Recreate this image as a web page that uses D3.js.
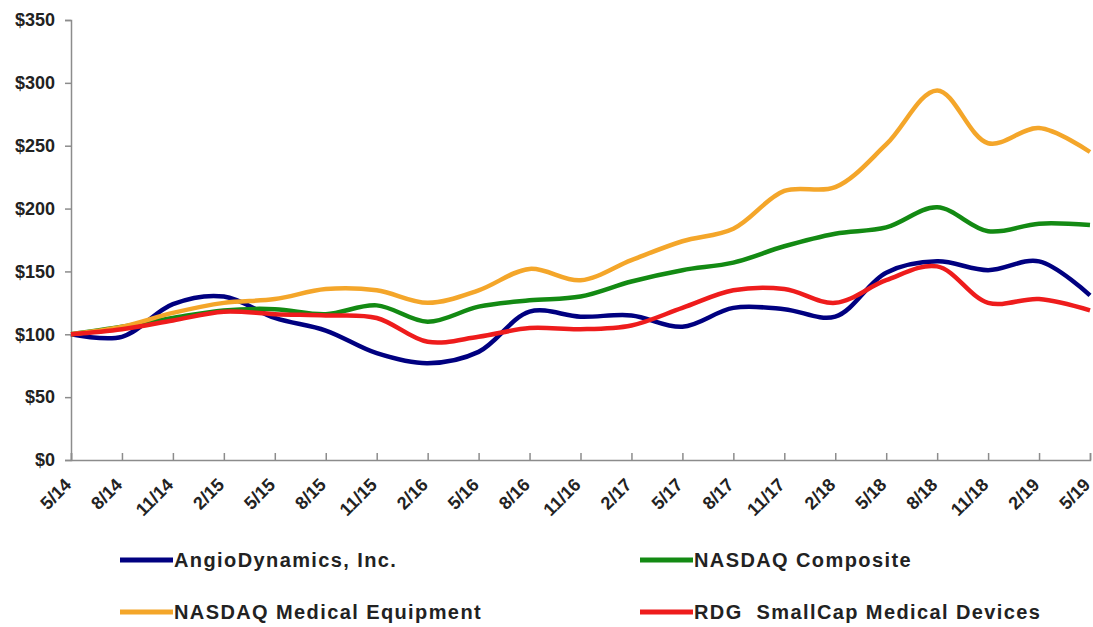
<!DOCTYPE html>
<html>
<head>
<meta charset="utf-8">
<script src="https://cdnjs.cloudflare.com/ajax/libs/d3/7.8.5/d3.min.js"></script>
<style>
body{margin:0;background:#fff;}
.tick text{font-family:"Liberation Sans",Arial,sans-serif;font-weight:bold;fill:#222;}
.legtext{font-family:"Liberation Sans",Arial,sans-serif;font-weight:bold;font-size:20px;letter-spacing:1.4px;fill:#222;}
</style>
</head>
<body>
<div id="chart"></div>
<script>
var w = 1093;
var h = 627;

var dates = ["5/14","8/14","11/14","2/15","5/15","8/15","11/15","2/16","5/16","8/16","11/16",
  "2/17","5/17","8/17","11/17","2/18","5/18","8/18","11/18","2/19","5/19"];
var yTicks = [0,50,100,150,200,250,300,350];

var angio =   [100,98,124,130,113,103,85,77,86,118,114,115,106,121,120,114,149,158,151,158,131];
var nasdaq =  [100,106,113,119,120,116,123,110,122,127,130,142,151,157,170,180,185,201,182,188,187];
var medEq =   [100,106,117,125,128,136,135,125,135,152,143,159,174,184,214,217,251,294,252,264,245];
var rdg =     [100,104,111,118,116,115,113,94,98,105,104,107,121,135,136,125,143,154,125,128,119];

var seriesNames = ["AngioDynamics, Inc.","NASDAQ Composite","NASDAQ Medical Equipment","RDG  SmallCap Medical Devices"];
var seriesColors = ["#000080","#138a13","#f4a62a","#ee1c1c"];
var seriesData = [angio,nasdaq,medEq,rdg];

// note: "top" clashes with window.top, so padTop etc.
var padLeft = 71, padRight = 1090, padTop = 20, padBottom = 460;

var xScale = d3.scalePoint()
  .domain(dates)
  .range([padLeft, padRight]);

var yScale = d3.scaleLinear()
  .domain([0, 350])
  .range([padBottom, padTop]);

var svg = d3.select("#chart")
  .append("svg")
  .attr("width", w)
  .attr("height", h);

//axes
var yAxis = svg.append("g")
  .attr("transform", "translate(" + padLeft + ",0)")
  .call(d3.axisLeft(yScale).tickValues(yTicks).tickSize(6).tickPadding(10)
    .tickFormat(function(d){ return "$" + d; }));
yAxis.selectAll("text").style("font-size","18px");

var xAxis = svg.append("g")
  .attr("transform", "translate(0," + padBottom + ")")
  .call(d3.axisBottom(xScale).tickSize(-7));
xAxis.selectAll("text")
  .style("font-size","18px")
  .style("text-anchor","end")
  .attr("x",0)
  .attr("y",0)
  .attr("dy","0.7em")
  .attr("transform","translate(-8,17) rotate(-45)");

svg.selectAll(".domain, .tick line").attr("stroke","#8c8c8c").attr("stroke-width",1.5);

//lines
var line = d3.line()
  .x(function(d, i){ return xScale(dates[i]); })
  .y(function(d){ return yScale(d); })
  .curve(d3.curveCatmullRom.alpha(0.5));

for (var i = 0; i < seriesData.length; i++) {
  svg.append("path")
    .datum(seriesData[i])
    .attr("fill","none")
    .attr("stroke",seriesColors[i])
    .attr("stroke-width",4.5)
    .attr("stroke-linejoin","round")
    .attr("d", line);
}

//legend
var legX = [120,640];
var legY = [560,612];
for (var j = 0; j < seriesNames.length; j++) {
  var lx = legX[j % 2], ly = legY[Math.floor(j / 2)];
  svg.append("line")
    .attr("x1", lx).attr("x2", lx + 53)
    .attr("y1", ly).attr("y2", ly)
    .attr("stroke", seriesColors[j])
    .attr("stroke-width", 5);
  svg.append("text")
    .attr("class","legtext")
    .attr("x", lx + 54)
    .attr("y", ly + 7)
    .attr("xml:space","preserve")
    .text(seriesNames[j]);
}
</script>
</body>
</html>
